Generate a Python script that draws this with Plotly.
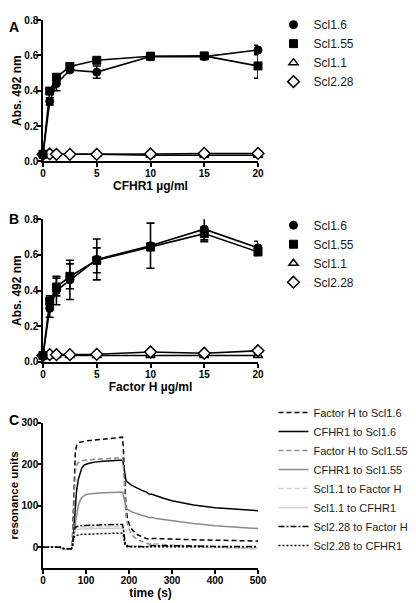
import plotly.graph_objects as go

# ---------------- Data ----------------
conc = [0, 0.625, 1.25, 2.5, 5, 10, 15, 20]
series_names = ["Scl1.6", "Scl1.55", "Scl1.1", "Scl2.28"]

# Panel A: CFHR1 binding
A_scl16 = [0.04, 0.34, 0.44, 0.517, 0.505, 0.593, 0.593, 0.63]
A_scl16_err = [0.004, 0.02, 0.04, 0.01, 0.035, 0.015, 0.012, 0.027]
A_scl155 = [0.04, 0.398, 0.476, 0.537, 0.572, 0.595, 0.597, 0.54]
A_scl155_err = [0.004, 0.012, 0.015, 0.01, 0.01, 0.02, 0.015, 0.07]
A_scl11 = [0.04, 0.04, 0.04, 0.04, 0.04, 0.035, 0.035, 0.035]
A_scl11_err = [0.003, 0.003, 0.003, 0.003, 0.003, 0.004, 0.004, 0.004]
A_scl228 = [0.04, 0.042, 0.04, 0.04, 0.04, 0.042, 0.045, 0.045]
A_scl228_err = [0.003, 0.003, 0.003, 0.003, 0.003, 0.004, 0.004, 0.004]

# Panel B: Factor H binding
B_scl16 = [0.035, 0.30, 0.40, 0.46, 0.575, 0.652, 0.745, 0.64]
B_scl16_err = [0.003, 0.05, 0.08, 0.11, 0.115, 0.127, 0.07, 0.037]
B_scl155 = [0.035, 0.34, 0.42, 0.48, 0.57, 0.645, 0.72, 0.617]
B_scl155_err = [0.003, 0.03, 0.05, 0.07, 0.07, 0.02, 0.035, 0.02]
B_scl11 = [0.035, 0.035, 0.035, 0.035, 0.035, 0.035, 0.035, 0.035]
B_scl11_err = [0.003, 0.003, 0.003, 0.003, 0.003, 0.003, 0.003, 0.003]
B_scl228 = [0.035, 0.04, 0.04, 0.04, 0.042, 0.055, 0.048, 0.062]
B_scl228_err = [0.003, 0.003, 0.003, 0.003, 0.003, 0.004, 0.004, 0.004]

# Panel C: SPR sensorgrams
time_s = [0, 20, 40, 45, 55, 65, 68, 70, 72, 75, 78, 82, 86, 90, 95, 100, 110, 120,
          140, 160, 180, 185, 187, 189, 191, 193, 196, 200, 205, 210, 220, 230, 240,
          248, 252, 260, 280, 300, 350, 400, 450, 500]
ru_fh_scl16 = [0, 0, 0, -3, -4, -4, 5, 70, 160, 225, 245, 251, 253, 254, 255, 256, 257, 258,
               260, 262, 264, 265, 235, 175, 125, 95, 72, 57, 46, 39, 30, 25, 21,
               19, 21, 21, 20, 19, 18, 17, 16, 15]
ru_cfhr1_scl16 = [0, 0, 0, -3, -4, -4, -1, 15, 50, 100, 135, 163, 180, 190, 197, 200, 203, 205,
                  207, 208, 210, 210, 200, 182, 168, 161, 157, 153, 150, 147, 141, 137, 133,
                  127, 128, 125, 118, 112, 102, 95, 91, 88]
ru_fh_scl155 = [0, 0, 0, -3, -4, -4, 0, 50, 130, 180, 197, 204, 207, 208, 209, 210, 211, 212,
                213, 214, 215, 216, 195, 150, 105, 78, 58, 44, 33, 26, 18, 13, 10,
                7, 9, 8, 6, 5, 3, 1, -2, -4]
ru_cfhr1_scl155 = [0, 0, 0, -3, -4, -4, -1, 8, 25, 55, 80, 100, 112, 119, 124, 127, 129, 130,
                   131, 132, 133, 133, 125, 112, 102, 96, 92, 89, 86, 84, 80, 77, 74,
                   71, 72, 70, 67, 64, 57, 52, 48, 45]
ru_scl11_fh = [0, 0, 0, -3, -4, -4, 0, 20, 38, 45, 47, 48, 48, 48, 49, 49, 49, 49,
               50, 50, 50, 50, 42, 25, 12, 6, 4, 3, 3, 3, 3, 3, 3,
               3, 6, 5, 4, 3, 2, 0, -1, -3]
ru_scl11_cfhr1 = [0, 0, 0, -3, -4, -4, 0, 18, 33, 40, 42, 43, 44, 44, 45, 45, 45, 45,
                  46, 46, 46, 46, 38, 22, 10, 5, 3, 2, 2, 2, 2, 2, 2,
                  2, 5, 4, 3, 2, 1, 0, -1, -2]
ru_scl228_fh = [0, 0, 0, -3, -4, -4, 0, 22, 40, 48, 50, 51, 52, 52, 52, 53, 53, 53,
                54, 55, 55, 55, 45, 25, 10, 5, 3, 2, 2, 2, 1, 1, 1,
                1, 4, 4, 3, 3, 3, 2, 2, 2]
ru_scl228_cfhr1 = [0, 0, 0, -3, -4, -4, 0, 15, 24, 28, 29, 30, 30, 31, 31, 31, 32, 32,
                   33, 34, 34, 34, 28, 15, 5, 2, 1, 1, 1, 1, 1, 1, 1,
                   1, 2, 2, 2, 1, 1, 1, 1, 1]

C_names = ["Factor H to Scl1.6", "CFHR1 to Scl1.6", "Factor H to Scl1.55", "CFHR1 to Scl1.55",
           "Scl1.1 to Factor H", "Scl1.1 to CFHR1", "Scl2.28 to Factor H", "Scl2.28 to CFHR1"]
C_values = [ru_fh_scl16, ru_cfhr1_scl16, ru_fh_scl155, ru_cfhr1_scl155,
            ru_scl11_fh, ru_scl11_cfhr1, ru_scl228_fh, ru_scl228_cfhr1]

# ---------------- Styles ----------------
FONT = "Liberation Sans"
marker_styles = [
    dict(symbol="circle", size=8, color="black", line=dict(color="black", width=1)),
    dict(symbol="square", size=8, color="black", line=dict(color="black", width=1)),
    dict(symbol="triangle-up", size=8, color="white", line=dict(color="black", width=1.5)),
    dict(symbol="diamond", size=9, color="white", line=dict(color="black", width=1.5)),
]
C_colors = ["black", "black", "#8a8a8a", "#8a8a8a", "#cfcfcf", "#cfcfcf", "black", "black"]
C_dash = ["5px,3px", "solid", "5px,3px", "solid", "5px,3px", "solid", "6px,2px,2px,2px", "2px,2px"]

fig = go.Figure()


def add_panel(xa, ya, legend, values, errors):
    order = [2, 3, 0, 1]
    for i in order:
        fig.add_trace(go.Scatter(
            x=conc, y=values[i], mode="lines", xaxis=xa, yaxis=ya,
            line=dict(color="black", width=1.6), showlegend=False, hoverinfo="skip"))
    for i in order:
        fig.add_trace(go.Scatter(
            x=conc, y=values[i], mode="markers", xaxis=xa, yaxis=ya,
            name=series_names[i], legend=legend, legendrank=i + 1,
            marker=marker_styles[i], cliponaxis=False,
            error_y=dict(type="data", array=errors[i], color="black", thickness=1.6, width=4)))


add_panel("x", "y", "legend",
          [A_scl16, A_scl155, A_scl11, A_scl228],
          [A_scl16_err, A_scl155_err, A_scl11_err, A_scl228_err])
add_panel("x2", "y2", "legend2",
          [B_scl16, B_scl155, B_scl11, B_scl228],
          [B_scl16_err, B_scl155_err, B_scl11_err, B_scl228_err])

for k in range(len(C_names)):
    fig.add_trace(go.Scatter(
        x=time_s, y=C_values[k], mode="lines", xaxis="x3", yaxis="y3",
        name=C_names[k], legend="legend3", legendrank=k + 1,
        line=dict(color=C_colors[k], width=1.5, dash=C_dash[k])))

axis_common = dict(
    showline=True, linecolor="black", linewidth=1.5, ticks="outside", ticklen=4,
    tickwidth=1.5, tickcolor="black", showgrid=False, zeroline=False, automargin=False,
    tickfont=dict(family=FONT, size=10, color="black", weight="bold"),
)
xax = dict(axis_common, ticklabelstandoff=-2)
yax = dict(axis_common, ticklabelstandoff=-3)
title_font = dict(family=FONT, size=12, color="black", weight="bold")

fig.update_layout(
    width=408, height=595,
    margin=dict(l=35, r=151, t=2, b=35),
    plot_bgcolor="white", paper_bgcolor="white",
    font=dict(family=FONT, color="black"),
    xaxis=dict(xax, domain=[0, 1], anchor="y", range=[0, 20], tickvals=[0, 5, 10, 15, 20],
               title=dict(text="CFHR1 µg/ml", font=title_font, standoff=3)),
    yaxis=dict(yax, domain=[0.742, 1.0], anchor="x", range=[0, 0.8], dtick=0.2,
               tickformat=".1f",
               title=dict(text="Abs. 492 nm", font=title_font, standoff=0)),
    xaxis2=dict(xax, domain=[0, 1], anchor="y2", range=[0, 20], tickvals=[0, 5, 10, 15, 20],
                title=dict(text="Factor H µg/ml", font=title_font, standoff=3)),
    yaxis2=dict(yax, domain=[0.3763, 0.6362], anchor="x2", range=[0, 0.8], dtick=0.2,
                tickformat=".1f",
                title=dict(text="Abs. 492 nm", font=title_font, standoff=0)),
    xaxis3=dict(xax, domain=[0, 1], anchor="y3", range=[0, 500], dtick=100,
                title=dict(text="time (s)", font=title_font, standoff=3)),
    yaxis3=dict(yax, domain=[0, 0.2652], anchor="x3", range=[-50, 300],
                tickvals=[0, 100, 200, 300],
                title=dict(text="resonance units", font=dict(title_font, size=11.5), standoff=2)),
    legend=dict(x=1.072, y=1.018, xanchor="left", yanchor="top", bgcolor="rgba(0,0,0,0)",
                font=dict(family=FONT, size=12, color="#1a1a1a"), borderwidth=0),
    legend2=dict(x=1.072, y=0.652, xanchor="left", yanchor="top", bgcolor="rgba(0,0,0,0)",
                 font=dict(family=FONT, size=12, color="#1a1a1a"), borderwidth=0),
    legend3=dict(x=1.072, y=0.310, xanchor="left", yanchor="top", bgcolor="rgba(0,0,0,0)",
                 font=dict(family=FONT, size=11, color="#1a1a1a"), borderwidth=0),
    showlegend=True,
)

letters = [("A", 1.0036, "top"), ("B", 0.6362, "middle"), ("C", 0.2706, "middle")]
for letter, yy, ya in letters:
    fig.add_annotation(text=letter, xref="paper", yref="paper", x=-0.1622, y=yy,
                       xanchor="left", yanchor=ya, showarrow=False, borderpad=0,
                       font=dict(family=FONT, size=14, color="black", weight="bold"))

fig.write_html("out.html")
